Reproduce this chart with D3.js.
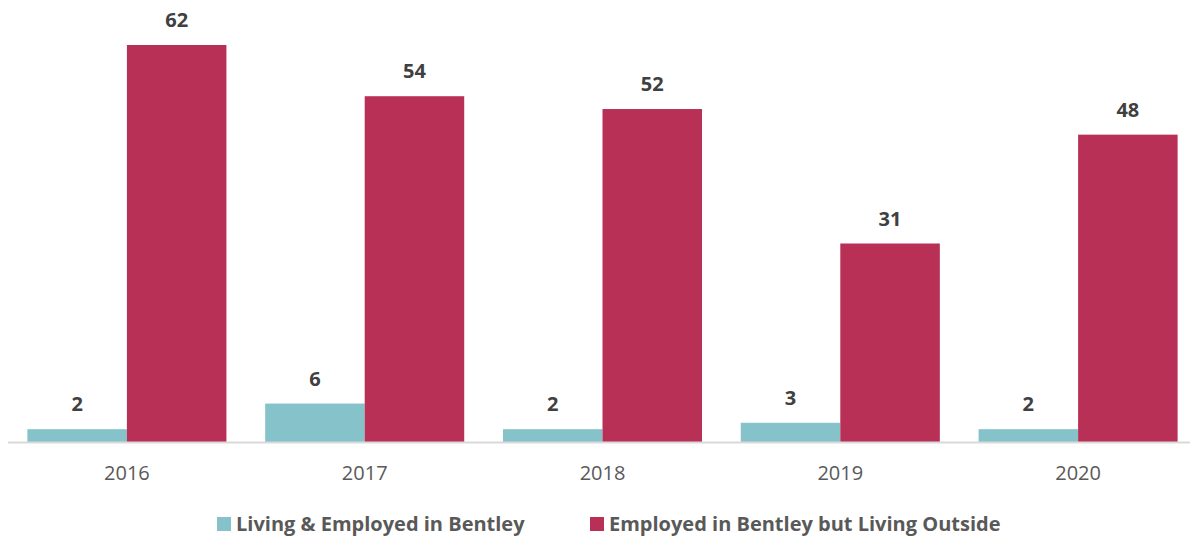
<!DOCTYPE html>
<html>
<head>
<meta charset="utf-8">
<script src="https://cdn.jsdelivr.net/npm/d3@7"></script>
<style>
  body { margin: 0; background: #fff; }
  text { font-family: "Open Sans", sans-serif; }
</style>
</head>
<body>
<div id="chart-area"></div>
<script>
// data
const years = ["2016", "2017", "2018", "2019", "2020"]
const seriesNames = ["Living & Employed in Bentley", "Employed in Bentley but Living Outside"]
const livingEmployed = [2, 6, 2, 3, 2]
const employedOutside = [62, 54, 52, 31, 48]
const colors = ["#85c2c9", "#b83055"]

function drawChart() {
    const svgWidth = 1190
    const svgHeight = 544
    const baseline = 442

    const svg = d3.select("#chart-area")
      .append("svg")
      .attr("width", svgWidth)
      .attr("height", svgHeight)

    const dataset = years.map((y, i) => ({
        year: y,
        values: [livingEmployed[i], employedOutside[i]]
    }))

    const xScale = d3.scaleBand()
        .domain(years)
        .range([8, 1197])
        .paddingInner(0.163)
        .paddingOuter(0.0815)

    const subScale = d3.scaleBand()
        .domain([0, 1])
        .range([0, xScale.bandwidth()])

    const yScale = d3.scaleLinear()
        .domain([0, 62])
        .range([baseline, 45])

    const groups = svg.selectAll(".year")
        .data(dataset)
        .join("g")
        .attr("class", "year")
        .attr("transform", d => `translate(${xScale(d.year)},0)`)

    groups.selectAll("rect")
        .data(d => d.values)
        .join("rect")
        .attr("x", (d, i) => subScale(i))
        .attr("y", d => yScale(d))
        .attr("width", subScale.bandwidth())
        .attr("height", d => baseline - yScale(d))
        .attr("fill", (d, i) => colors[i])

    groups.selectAll(".label")
        .data(d => d.values)
        .join("text")
        .attr("class", "label")
        .attr("x", (d, i) => subScale(i) + subScale.bandwidth() / 2)
        .attr("y", d => yScale(d) - 18)
        .attr("text-anchor", "middle")
        .attr("fill", "#404040")
        .attr("font-weight", "bold")
        .attr("font-size", 20)
        .text(d => d)

    // x axis
    const xAxis = svg.append("g")
        .attr("class", "x-axis")
        .attr("transform", `translate(0,${baseline})`)
        .call(d3.axisBottom(xScale).tickSize(0).tickPadding(24))
    xAxis.select(".domain")
        .attr("d", `M8,0.5H1190`)
        .attr("stroke", "#d9d9d9")
        .attr("stroke-width", 2)
    xAxis.selectAll(".tick text")
        .attr("font-family", "Open Sans, sans-serif")
        .attr("font-size", 20)
        .attr("fill", "#595959")

    // legend
    const legendX = [217, 590]
    const legend = svg.selectAll(".legend")
        .data(seriesNames)
        .join("g")
        .attr("class", "legend")
        .attr("transform", (d, i) => `translate(${legendX[i]},524)`)
    legend.append("rect")
        .attr("x", 0)
        .attr("y", -7)
        .attr("width", 14)
        .attr("height", 14)
        .attr("fill", (d, i) => colors[i])
    legend.append("text")
        .attr("x", 19)
        .attr("y", 7)
        .attr("font-size", 20)
        .attr("font-weight", "bold")
        .attr("fill", "#595959")
        .text(d => d)
}

drawChart()
</script>
</body>
</html>
